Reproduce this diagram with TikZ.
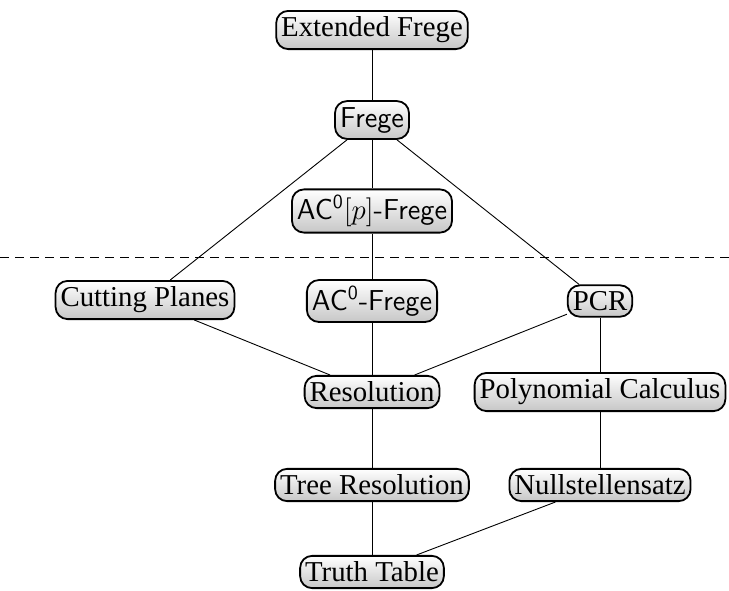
\documentclass[tikz,border=0pt]{standalone}
\usepackage{fontspec}
\setmainfont{Liberation Serif}
\usetikzlibrary{shadings}
\begin{document}
\begin{tikzpicture}[x=0.5pt,y=-0.5pt,
  sys/.style={draw=black, line width=0.9pt, rounded corners=6pt,
    top color=white, bottom color=black!22, font=\Large,
    inner xsep=2.5pt, inner ysep=3pt},
  link/.style={draw=black, line width=0.45pt}]
\useasboundingbox (0,0) rectangle (729,590);
\node[sys] (ef)   at (372,30)  {Extended Frege};
\node[sys] (fr)   at (372,120) {\sffamily Frege};
\node[sys] (acp)  at (372,211) {\sffamily AC$^{\mathsf{0}}[p]$-Frege};
\node[sys] (cp)   at (145,300) {Cutting Planes};
\node[sys] (ac)   at (372,301) {\sffamily AC$^{\mathsf{0}}$-Frege};
\node[sys] (pcr)  at (600,301) {PCR};
\node[sys] (res)  at (372,392) {Resolution};
\node[sys] (pc)   at (600,392) {Polynomial Calculus};
\node[sys] (tr)   at (372,485) {Tree Resolution};
\node[sys] (ns)   at (600,485) {Nullstellensatz};
\node[sys] (tt)   at (372,572) {Truth Table};
\coordinate (dl) at (0,257);
\coordinate (dr) at (729,257);
\draw[line width=0.45pt, dash pattern=on 4.5pt off 3pt] (dl) -- (dr);
\draw[link] (ef) -- (fr);
\draw[link] (fr) -- (acp);
\draw[link] (fr) -- (cp);
\draw[link] (fr) -- (pcr);
\draw[link] (acp) -- (ac);
\draw[link] (cp) -- (res);
\draw[link] (ac) -- (res);
\draw[link] (pcr) -- (res);
\draw[link] (pcr) -- (pc);
\draw[link] (res) -- (tr);
\draw[link] (pc) -- (ns);
\draw[link] (tr) -- (tt);
\draw[link] (ns) -- (tt);
\end{tikzpicture}
\end{document}
